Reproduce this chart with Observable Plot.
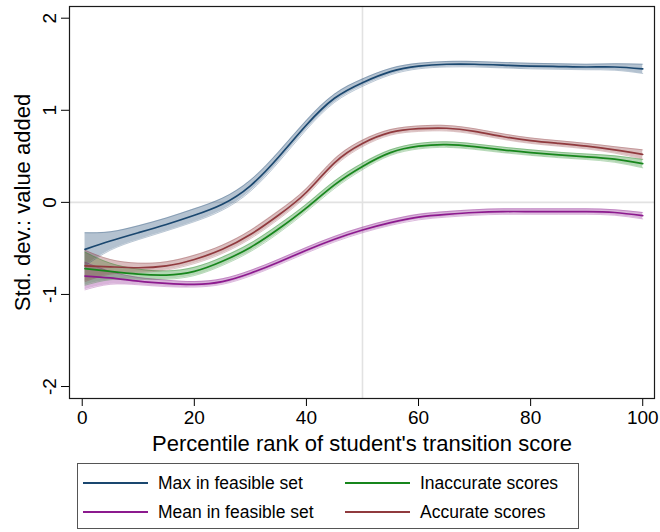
<!DOCTYPE html>
<html><head><meta charset="utf-8">
<script src="https://cdn.jsdelivr.net/npm/d3@7"></script>
<script src="https://cdn.jsdelivr.net/npm/@observablehq/plot@0.6"></script>
<style>
body{margin:0;background:#fff;font-family:"Liberation Sans",Arial,Helvetica,sans-serif;}
#wrap{position:relative;width:660px;height:532px;overflow:hidden;}
#legend{position:absolute;left:77px;top:463px;width:502px;height:66px;border:1px solid #555;box-sizing:border-box;}
g[aria-label="x-axis label"], g[aria-label="y-axis label"]{font-size:22px;}
</style></head><body><div id="wrap"><div id="chart"></div><div id="legend"></div></div>
<script>
// Percentile rank of student's transition score (x positions of estimates)
const pct = [0.5, 5, 10, 15, 20, 25, 30, 35, 40, 45, 50, 55, 60, 65, 70, 75, 80, 85, 90, 95, 100];

// Series estimates (std. dev. of value added)
const maxFeasible  = [-0.51, -0.42, -0.33, -0.24, -0.14, -0.02, 0.18, 0.49, 0.84, 1.13, 1.30, 1.42, 1.48, 1.50, 1.50, 1.49, 1.48, 1.475, 1.47, 1.47, 1.45];
const meanFeasible = [-0.80, -0.82, -0.855, -0.88, -0.89, -0.86, -0.77, -0.65, -0.52, -0.40, -0.30, -0.22, -0.16, -0.13, -0.11, -0.10, -0.10, -0.10, -0.10, -0.11, -0.145];
const inaccurate   = [-0.72, -0.75, -0.78, -0.79, -0.75, -0.64, -0.49, -0.29, -0.06, 0.19, 0.39, 0.54, 0.61, 0.627, 0.605, 0.57, 0.54, 0.515, 0.495, 0.47, 0.42];
const accurate     = [-0.69, -0.70, -0.71, -0.69, -0.62, -0.51, -0.35, -0.14, 0.11, 0.43, 0.64, 0.76, 0.80, 0.805, 0.77, 0.715, 0.67, 0.64, 0.61, 0.57, 0.52];

// Confidence band half-widths
const maxFeasibleCI  = [0.18, 0.10, 0.075, 0.07, 0.07, 0.065, 0.06, 0.055, 0.05, 0.045, 0.04, 0.035, 0.03, 0.03, 0.03, 0.03, 0.03, 0.03, 0.03, 0.035, 0.05];
const meanFeasibleCI = [0.15, 0.07, 0.04, 0.035, 0.03, 0.03, 0.03, 0.03, 0.03, 0.03, 0.03, 0.03, 0.03, 0.03, 0.03, 0.03, 0.03, 0.03, 0.03, 0.03, 0.035];
const inaccurateCI   = [0.18, 0.09, 0.055, 0.045, 0.045, 0.045, 0.045, 0.045, 0.04, 0.04, 0.035, 0.03, 0.03, 0.03, 0.03, 0.03, 0.03, 0.03, 0.03, 0.035, 0.045];
const accurateCI     = [0.17, 0.08, 0.05, 0.045, 0.045, 0.045, 0.045, 0.045, 0.04, 0.04, 0.035, 0.03, 0.03, 0.03, 0.03, 0.03, 0.03, 0.03, 0.03, 0.035, 0.05];

const seriesNames  = ["Max in feasible set", "Mean in feasible set", "Inaccurate scores", "Accurate scores"];
const seriesColors = ["#1a476f", "#8c1a8e", "#17861c", "#903a3e"];
const xTicks = [0, 20, 40, 60, 80, 100];
const yTicks = [-2, -1, 0, 1, 2];
const xTitle = "Percentile rank of student's transition score";
const yTitle = "Std. dev.: value added";

const values = [maxFeasible, meanFeasible, inaccurate, accurate];
const cis = [maxFeasibleCI, meanFeasibleCI, inaccurateCI, accurateCI];
const rows = [];
seriesNames.forEach((s, k) => {
  pct.forEach((x, i) => {
    rows.push({series: s, x, y: values[k][i], lo: values[k][i] - cis[k][i], hi: values[k][i] + cis[k][i]});
  });
});

const curve = "natural";
const chart = Plot.plot({
  width: 660, height: 455,
  marginLeft: 69, marginRight: 6, marginTop: 6, marginBottom: 57,
  style: {fontFamily: '"Liberation Sans", Arial, Helvetica, sans-serif', fontSize: "19px", color: "#000", background: "#fff", overflow: "visible"},
  x: {domain: [-2.27, 102.1], ticks: xTicks, tickSize: 8, tickPadding: 4, tickFormat: d => String(d),
      label: xTitle, labelAnchor: "center", labelOffset: 52, labelArrow: false},
  y: {domain: [-2.13, 2.127], ticks: yTicks, tickSize: 8, tickPadding: 6, tickRotate: -90, tickFormat: d => String(d),
      label: yTitle, labelAnchor: "center", labelOffset: 55, labelArrow: false},
  color: {domain: seriesNames, range: seriesColors},
  marks: [
    Plot.ruleY([0], {stroke: "#e2e2e2", strokeWidth: 1.6}),
    Plot.ruleX([50], {stroke: "#e2e2e2", strokeWidth: 1.6}),
    Plot.areaY(rows, {x: "x", y1: "lo", y2: "hi", z: "series", fill: "series", fillOpacity: 0.33, curve}),
    Plot.lineY(rows, {x: "x", y: "lo", z: "series", stroke: "series", strokeOpacity: 0.3, strokeWidth: 1, curve}),
    Plot.lineY(rows, {x: "x", y: "hi", z: "series", stroke: "series", strokeOpacity: 0.3, strokeWidth: 1, curve}),
    Plot.lineY(rows, {x: "x", y: "y", z: "series", stroke: "series", strokeWidth: 1.7, curve}),
    Plot.frame({stroke: "#1a1a1a", strokeWidth: 1.2})
  ]
});
document.getElementById("chart").appendChild(chart);

// Legend (2 columns x 2 rows)
const legendOrder = [0, 2, 1, 3];
const lg = d3.select("#legend").append("svg").attr("width", 500).attr("height", 64)
  .style("font-family", '"Liberation Sans", Arial, Helvetica, sans-serif').style("font-size", "17.5px");
legendOrder.forEach((k, j) => {
  const col = j % 2, row = Math.floor(j / 2);
  const x0 = col === 0 ? 5 : 267, y0 = row === 0 ? 19 : 48;
  lg.append("line").attr("x1", x0).attr("x2", x0 + 65).attr("y1", y0).attr("y2", y0)
    .attr("stroke", seriesColors[k]).attr("stroke-width", 1.8);
  lg.append("text").attr("x", x0 + 75).attr("y", y0).attr("dy", "0.35em").attr("fill", "#000").text(seriesNames[k]);
});
</script></body></html>
